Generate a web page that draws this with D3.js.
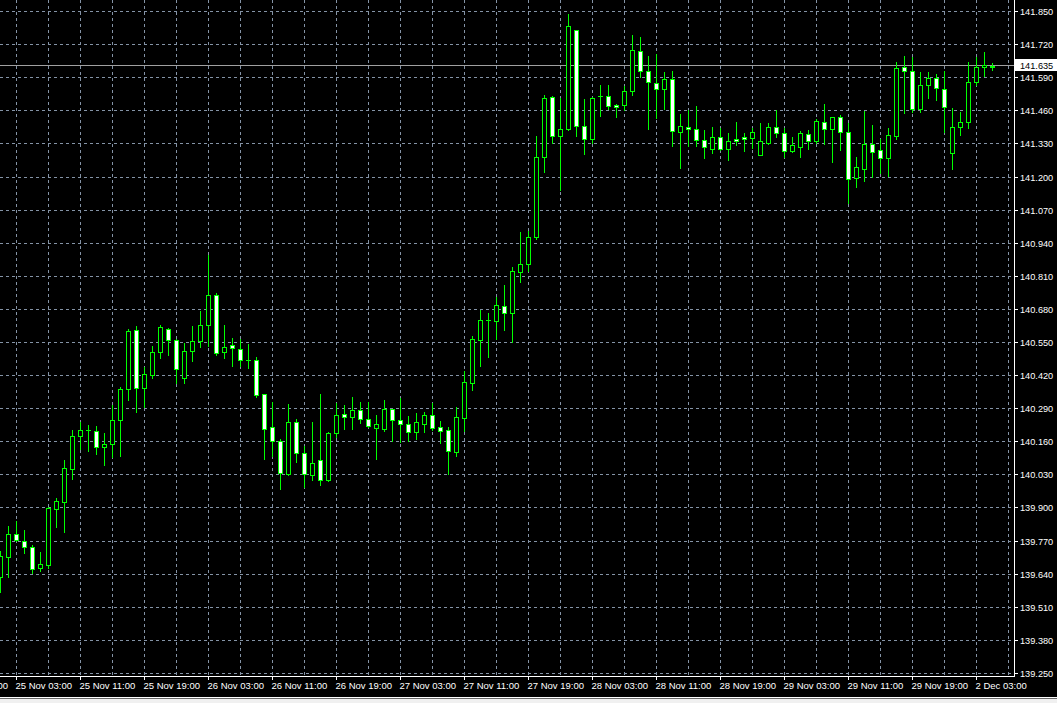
<!DOCTYPE html>
<html>
<head>
<meta charset="utf-8">
<script src="https://cdn.jsdelivr.net/npm/d3@7"></script>
<style>
  html, body { margin: 0; padding: 0; background: #000; overflow: hidden; }
  svg { display: block; }
  text { font-family: "Liberation Sans", Arial, sans-serif; }
</style>
</head>
<body>
<svg id="chart" width="1057" height="703"></svg>
<script>
// ---- Data (USD/JPY-style H1 candles) ----
const opens = [139.627,139.707,139.795,139.767,139.745,139.661,139.675,139.895,139.923,140.052,
140.179,140.203,140.199,140.136,140.148,140.242,140.364,140.596,140.368,140.419,
140.509,140.600,140.557,140.407,140.513,140.553,140.615,140.733,140.509,140.537,
140.521,140.479,140.478,140.344,140.215,140.160,140.032,140.234,140.113,140.026,
140.085,140.007,140.191,140.266,140.257,140.282,140.246,140.213,140.209,140.286,
140.242,140.226,140.197,140.229,140.262,140.215,140.203,140.119,140.252,140.390,
140.557,140.635,140.634,140.692,140.665,140.826,140.855,140.961,141.275,141.511,
141.358,141.385,141.774,141.397,141.346,141.515,141.515,141.481,141.480,141.535,
141.692,141.613,141.566,141.542,141.582,141.374,141.393,141.385,141.342,141.309,
141.354,141.309,141.346,141.354,141.352,141.286,141.333,141.393,141.370,141.301,
141.317,141.366,141.338,141.413,141.385,141.432,141.374,141.195,141.231,141.326,
141.303,141.271,141.360,141.629,141.613,141.464,141.558,141.586,141.542,141.293,
141.393,141.413,141.570,141.630,141.629];
const highs = [139.729,139.827,139.848,139.811,139.751,139.725,139.900,139.937,140.086,140.204,
140.236,140.224,140.220,140.192,140.304,140.373,140.600,140.613,140.452,140.534,
140.615,140.605,140.560,140.547,140.613,140.673,140.893,140.743,140.617,140.566,
140.563,140.542,140.492,140.346,140.314,140.168,140.306,140.246,140.141,140.236,
140.346,140.195,140.311,140.302,140.334,140.314,140.314,140.263,140.322,140.288,
140.329,140.259,140.271,140.275,140.310,140.238,140.217,140.293,140.436,140.573,
140.676,140.664,140.725,140.774,140.844,140.982,140.987,141.359,141.519,141.516,
141.508,141.838,141.776,141.504,141.511,141.559,141.559,141.486,141.555,141.755,
141.747,141.673,141.680,141.610,141.614,141.445,141.460,141.476,141.383,141.394,
141.389,141.371,141.414,141.371,141.389,141.410,141.410,141.460,141.389,141.355,
141.379,141.383,141.425,141.485,141.434,141.440,141.409,141.275,141.456,141.401,
141.346,141.390,141.650,141.673,141.668,141.610,141.610,141.601,141.613,141.469,
141.452,141.650,141.670,141.689,141.645];
const lows = [139.569,139.626,139.768,139.722,139.641,139.652,139.663,139.824,139.805,140.013,
140.131,140.123,140.110,140.068,140.099,140.103,140.322,140.276,140.296,140.410,
140.488,140.500,140.388,140.388,140.476,140.531,140.534,140.499,140.488,140.457,
140.456,140.449,140.335,140.090,140.103,139.974,140.026,140.080,139.981,140.008,
139.989,140.004,140.178,140.208,140.209,140.233,140.217,140.090,140.201,140.161,
140.156,140.160,140.169,140.197,140.204,140.152,140.032,140.103,140.201,140.361,
140.457,140.492,140.560,140.597,140.549,140.786,140.829,140.954,141.219,141.333,
141.146,141.383,141.360,141.287,141.333,141.439,141.466,141.435,141.460,141.521,
141.592,141.388,141.429,141.464,141.321,141.234,141.320,141.321,141.274,141.293,
141.303,141.266,141.325,141.300,141.311,141.285,141.326,141.354,141.278,141.297,
141.278,141.309,141.333,141.326,141.258,141.305,141.097,141.157,141.183,141.199,
141.215,141.201,141.346,141.451,141.455,141.455,141.509,141.502,141.376,141.228,
141.362,141.392,141.558,141.596,141.617];
const closes = [139.709,139.795,139.772,139.743,139.659,139.677,139.898,139.924,140.054,140.181,
140.203,140.203,140.136,140.149,140.242,140.364,140.592,140.368,140.423,140.509,
140.608,140.558,140.443,140.513,140.553,140.615,140.733,140.505,140.529,140.525,
140.479,140.479,140.342,140.209,140.160,140.034,140.234,140.113,140.030,140.073,
140.008,140.191,140.262,140.257,140.282,140.249,140.219,140.226,140.286,140.242,
140.229,140.197,140.234,140.262,140.213,140.201,140.120,140.254,140.392,140.560,
140.635,140.635,140.694,140.663,140.829,140.855,140.961,141.275,141.507,141.358,
141.385,141.790,141.397,141.346,141.507,141.515,141.476,141.474,141.535,141.696,
141.613,141.570,141.542,141.582,141.377,141.397,141.385,141.342,141.315,141.354,
141.309,141.338,141.338,141.346,141.374,141.338,141.393,141.370,141.301,141.322,
141.370,141.338,141.417,141.385,141.432,141.374,141.191,141.236,141.326,141.297,
141.271,141.362,141.625,141.613,141.464,141.558,141.586,141.546,141.472,141.393,
141.413,141.570,141.629,141.637,141.635];

const priceTicks = [139.250,139.380,139.510,139.640,139.770,139.900,140.030,140.160,140.290,140.420,
140.550,140.680,140.810,140.940,141.070,141.200,141.330,141.460,141.590,141.720,141.850];
const timeTickLabels = ["22 Nov 19:00","25 Nov 03:00","25 Nov 11:00","25 Nov 19:00","26 Nov 03:00",
"26 Nov 11:00","26 Nov 19:00","27 Nov 03:00","27 Nov 11:00","27 Nov 19:00","28 Nov 03:00",
"28 Nov 11:00","28 Nov 19:00","29 Nov 03:00","29 Nov 11:00","29 Nov 19:00","2 Dec 03:00"];
const firstTickBar = -6;     // bar index of the first (partly hidden) time label
const barsPerLabel = 8;
const barsPerGrid = 4;
const currentPrice = 141.635;

// ---- Layout ----
const W = 1057, H = 703;
const plotRight = 1014, plotBottom = 676;
const GREEN = "#00ff00", GRID = "#8493a6", AXIS = "#ffffff";

const svg = d3.select("#chart");
svg.append("rect").attr("width", W).attr("height", H).attr("fill", "#000");

const y = d3.scaleLinear().domain([139.25, 141.85]).range([673, 11]);
const x = d3.scaleLinear().domain([0, 124]).range([0, 992]);   // bar index -> pixel
const px = i => Math.round(x(i)) + 0.5;
const py = v => Math.round(y(v)) + 0.5;

const data = opens.map((o, i) => ({ i, o, h: highs[i], l: lows[i], c: closes[i] }));

// ---- Grid ----
const grid = svg.append("g").attr("shape-rendering", "crispEdges")
  .attr("stroke", GRID).attr("stroke-width", 1).attr("stroke-dasharray", "3,3");
grid.selectAll("line.h").data(priceTicks).join("line").attr("class", "h")
  .attr("x1", 0).attr("x2", plotRight).attr("y1", d => py(d)).attr("y2", d => py(d));
const gridBars = d3.range(firstTickBar, 130, barsPerGrid).filter(i => x(i) >= 0 && x(i) < plotRight - 2);
grid.selectAll("line.v").data(gridBars).join("line").attr("class", "v")
  .attr("x1", d => px(d)).attr("x2", d => px(d)).attr("y1", 0).attr("y2", plotBottom);

// ---- Current price line ----
svg.append("line").attr("x1", 0).attr("x2", plotRight)
  .attr("y1", Math.floor(y(currentPrice)) + 0.5).attr("y2", Math.floor(y(currentPrice)) + 0.5)
  .attr("stroke", "#a0a0a0").attr("stroke-width", 1).attr("shape-rendering", "crispEdges");

// ---- Candles ----
const cg = svg.append("g").attr("shape-rendering", "crispEdges");
cg.selectAll("line.wick").data(data).join("line").attr("class", "wick")
  .attr("x1", d => px(d.i)).attr("x2", d => px(d.i))
  .attr("y1", d => Math.round(y(d.h))).attr("y2", d => Math.round(y(d.l)) + 1)
  .attr("stroke", GREEN).attr("stroke-width", 1);

const bodies = data.filter(d => Math.abs(Math.round(y(d.o)) - Math.round(y(d.c))) >= 1);
const dojis = data.filter(d => Math.abs(Math.round(y(d.o)) - Math.round(y(d.c))) < 1);
cg.selectAll("rect.body").data(bodies).join("rect").attr("class", "body")
  .attr("x", d => px(d.i) - 2)
  .attr("width", 4)
  .attr("y", d => py(Math.max(d.o, d.c)))
  .attr("height", d => py(Math.min(d.o, d.c)) - py(Math.max(d.o, d.c)))
  .attr("fill", d => d.c > d.o ? "#000" : "#fff")
  .attr("stroke", GREEN).attr("stroke-width", 1);
cg.selectAll("line.doji").data(dojis).join("line").attr("class", "doji")
  .attr("x1", d => px(d.i) - 2.5).attr("x2", d => px(d.i) + 2.5)
  .attr("y1", d => py(d.c)).attr("y2", d => py(d.c))
  .attr("stroke", GREEN).attr("stroke-width", 1);

// ---- Axes frame ----
svg.append("rect").attr("x", plotRight + 1).attr("y", 0).attr("width", W - plotRight).attr("height", H).attr("fill", "#000");
svg.append("rect").attr("x", 0).attr("y", plotBottom + 1).attr("width", W).attr("height", H - plotBottom).attr("fill", "#000");
const frame = svg.append("g").attr("shape-rendering", "crispEdges").attr("stroke", AXIS).attr("stroke-width", 1);
frame.append("line").attr("x1", plotRight + 0.5).attr("x2", plotRight + 0.5).attr("y1", 0).attr("y2", plotBottom + 1);
frame.append("line").attr("x1", 0).attr("x2", plotRight + 1).attr("y1", plotBottom + 0.5).attr("y2", plotBottom + 0.5);

// y axis ticks + labels
frame.selectAll("line.yt").data(priceTicks).join("line").attr("class", "yt")
  .attr("x1", plotRight).attr("x2", plotRight + 4).attr("y1", d => py(d)).attr("y2", d => py(d));
svg.append("g").selectAll("text").data(priceTicks).join("text")
  .attr("x", plotRight + 6).attr("y", d => Math.round(y(d)) + 4)
  .attr("fill", AXIS).attr("font-size", 9.2)
  .text(d => d3.format(".3f")(d));

// x axis ticks + labels
const timeTicks = timeTickLabels.map((label, k) => ({ label, bar: firstTickBar + k * barsPerLabel }));
frame.selectAll("line.xt").data(timeTicks).join("line").attr("class", "xt")
  .attr("x1", d => px(d.bar)).attr("x2", d => px(d.bar)).attr("y1", plotBottom).attr("y2", plotBottom + 4);
svg.append("g").selectAll("text").data(timeTicks).join("text")
  .attr("x", d => px(d.bar) - 1).attr("y", 689)
  .attr("fill", AXIS).attr("font-size", 9.5)
  .text(d => d.label);

// current price tag
const tagY = Math.floor(y(currentPrice));
svg.append("rect").attr("x", plotRight + 1).attr("y", tagY - 6).attr("width", W - plotRight - 1).attr("height", 12).attr("fill", "#fff");
svg.append("text").attr("x", plotRight + 6).attr("y", tagY + 4)
  .attr("fill", "#000").attr("font-size", 9.2).text(d3.format(".3f")(currentPrice));

// bottom window edge
svg.append("rect").attr("x", 0).attr("y", 697).attr("width", W).attr("height", 1).attr("fill", "#ffffff");
svg.append("rect").attr("x", 0).attr("y", 698).attr("width", W).attr("height", 1).attr("fill", "#696969");
svg.append("rect").attr("x", 0).attr("y", 699).attr("width", W).attr("height", 4).attr("fill", "#f0f0f0");
</script>
</body>
</html>
